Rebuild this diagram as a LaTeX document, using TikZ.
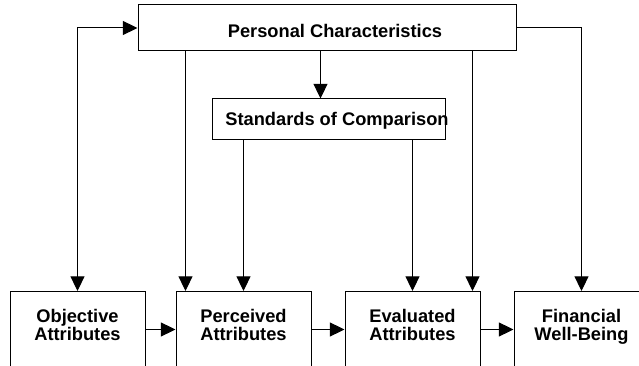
\documentclass[tikz,border=0pt]{standalone}
\usepackage{fontspec}
\setmainfont{Liberation Sans}
\usepackage{tikz}
\usetikzlibrary{positioning, arrows.meta, calc}
\newcommand{\lift}{\rule[-7pt]{0pt}{0pt}}

\begin{document}
\begin{tikzpicture}[x=0.75pt, y=-0.75pt, box/.style={draw, line width=0.75pt, inner sep=0pt}, attr/.style={box, anchor=north, minimum width=101.25pt, minimum height=57pt}, lbl/.style={font=\fontsize{13.7}{13}\selectfont\bfseries, align=center, inner sep=0pt}, arr/.style={-{Triangle[length=11pt, width=10.5pt]}, line width=0.75pt}, dbl/.style={{Triangle[length=11pt, width=10.5pt]}-{Triangle[length=11pt, width=10.5pt]}, line width=0.75pt}]
\useasboundingbox (0,0) rectangle (639,366);
\clip (0,0) rectangle (639,366);
\node[box, minimum width=283.5pt, minimum height=34.5pt] (pc) at (327,28) {};
\node[lbl] (pctxt) at (335,31) {Personal Characteristics};
\node[box, minimum width=174.75pt, minimum height=30.75pt] (soc) at (328.5,119.5) {};
\node[lbl] (soctxt) at (337,120.5) {Standards of Comparison};
\node[attr, lbl] (obj) at (77.5,291) {Objective\\Attributes\lift};
\node[attr, lbl] (perc) at (243.5,291) {Perceived\\Attributes\lift};
\node[attr, lbl] (eval) at (412.5,291) {Evaluated\\Attributes\lift};
\node[attr, lbl] (fin) at (581.5,291) {Financial\\Well-Being\lift};
\coordinate (a1) at ($(soc.north)+(-8,0)$);
\coordinate (a2) at ($(perc.north west)+(10,0)$);
\coordinate (a3) at ($(eval.north east)+(-8,0)$);
\draw[dbl] (obj.north) |- (pc.west);
\draw[arr] (a1 |- pc.south) -- (a1); \draw[arr] (a2 |- pc.south) -- (a2); \draw[arr] (a3 |- pc.south) -- (a3);
\draw[arr] (soc.south -| perc.north) -- (perc.north); \draw[arr] (soc.south -| eval.north) -- (eval.north);
\draw[arr] (pc.east) -| (fin.north);
\draw[arr] (obj) -- (perc); \draw[arr] (perc) -- (eval); \draw[arr] (eval) -- (fin);
\end{tikzpicture}
\end{document}
